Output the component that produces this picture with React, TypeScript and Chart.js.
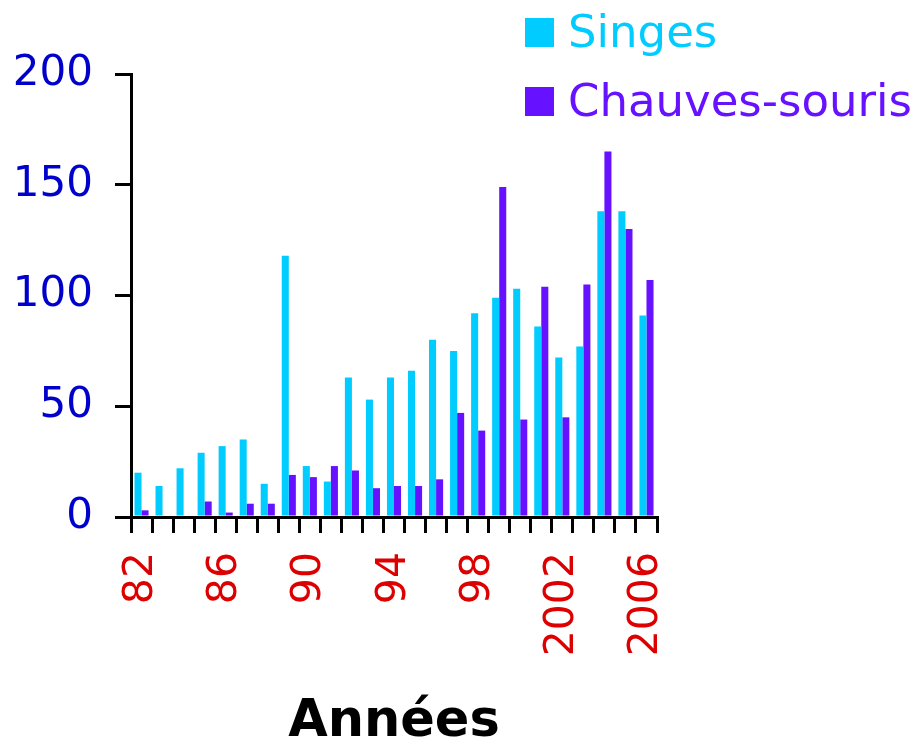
import React, { useEffect, useRef } from "react";
import { Chart, registerables } from "chart.js";

Chart.register(...registerables);

const years = [
  "82", "83", "84", "85", "86", "87", "88", "89", "90", "91", "92", "93", "94",
  "95", "96", "97", "98", "99", "2000", "2001", "2002", "2003", "2004", "2005", "2006",
];
const singes = [20, 14, 22, 29, 32, 35, 15, 118, 23, 16, 63, 53, 63, 66, 80, 75, 92, 99, 103, 86, 72, 77, 138, 138, 91];
const chauvesSouris = [3, 0, 0, 7, 2, 6, 6, 19, 18, 23, 21, 13, 14, 14, 17, 47, 39, 149, 44, 104, 45, 105, 165, 130, 107];
const seriesNames = ["Singes", "Chauves-souris"];
const yTicks = [0, 50, 100, 150, 200];
const xAxisTitle = "Années";

const CYAN = "#00CCFF";
const PURPLE = "#6611FF";
const FONT = "'DejaVu Sans', Verdana, sans-serif";

const legendPlugin = {
  id: "customLegend",
  afterDraw(chart: any) {
    const ctx = chart.ctx;
    ctx.save();
    const items = [
      { label: seriesNames[0], color: CYAN, y: 18 },
      { label: seriesNames[1], color: PURPLE, y: 87 },
    ];
    ctx.font = `45px ${FONT}`;
    ctx.textBaseline = "alphabetic";
    ctx.textAlign = "left";
    for (const it of items) {
      ctx.fillStyle = it.color;
      ctx.fillRect(525, it.y, 29, 29);
      ctx.fillText(it.label, 568, it.y + 29);
    }
    ctx.restore();
  },
};

export default function App() {
  const ref = useRef<HTMLCanvasElement | null>(null);
  useEffect(() => {
    if (!ref.current) return;
    const chart = new Chart(ref.current, {
      type: "bar",
      data: {
        labels: years,
        datasets: [
          { label: seriesNames[0], data: singes, backgroundColor: CYAN, categoryPercentage: 0.67, barPercentage: 1 },
          { label: seriesNames[1], data: chauvesSouris, backgroundColor: PURPLE, categoryPercentage: 0.67, barPercentage: 1 },
        ],
      },
      options: {
        animation: false,
        responsive: true,
        maintainAspectRatio: false,
        layout: { padding: { left: 0, right: 260, top: 74, bottom: 0 } },
        plugins: { legend: { display: false }, tooltip: { enabled: false } },
        scales: {
          x: {
            grid: { display: true, drawOnChartArea: false, offset: true, color: "#000", lineWidth: 3, tickLength: 16 },
            border: { display: true, color: "#000", width: 3 },
            ticks: {
              autoSkip: false,
              minRotation: 90,
              maxRotation: 90,
              padding: 19,
              color: "#DD0000",
              font: { family: FONT, size: 41 },
              callback: (_v: any, i: number) => (i % 4 === 0 ? years[i] : ""),
            },
            title: {
              display: true,
              text: xAxisTitle,
              color: "#000",
              font: { family: FONT, size: 51, weight: "bold", lineHeight: 0.85 },
              padding: { top: 0, bottom: 0 },
            },
            afterFit: (s: any) => {
              s.height = 227;
            },
          },
          y: {
            min: 0,
            max: 200,
            afterBuildTicks: (s: any) => {
              s.ticks = yTicks.map((v) => ({ value: v }));
            },
            grid: { display: true, drawOnChartArea: false, color: "#000", lineWidth: 3, tickLength: 16 },
            border: { display: true, color: "#000", width: 3 },
            ticks: {
              padding: 22,
              color: "#0000CC",
              font: { family: FONT, size: 42 },
            },
            afterFit: (s: any) => {
              s.width = 131;
            },
          },
        },
      },
      plugins: [legendPlugin],
    });
    return () => chart.destroy();
  }, []);
  return (
    <div style={{ position: "absolute", left: 0, top: 0, width: 917, height: 744, background: "#fff" }}>
      <canvas ref={ref} />
    </div>
  );
}
